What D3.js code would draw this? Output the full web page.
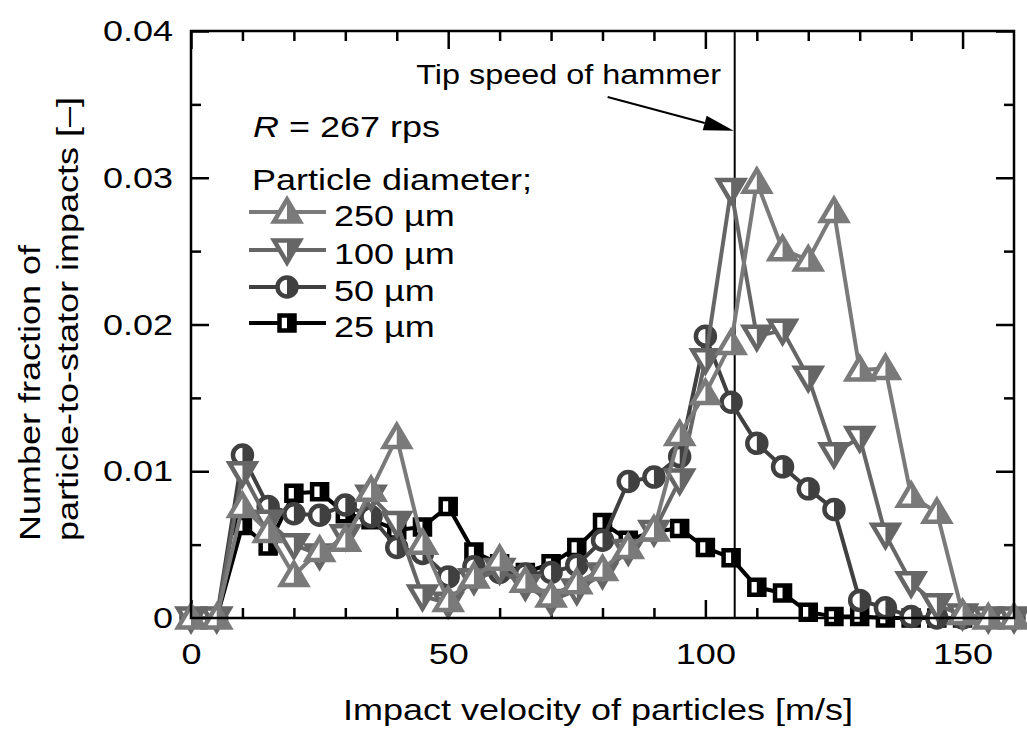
<!DOCTYPE html>
<html>

<head>
    <meta http-equiv="Content-Type" content="text/html; charset=UTF-8" />
    <style>
        body { margin: 0; background: #fff; }
        svg { display: block; font-family: "Liberation Sans", Arial, sans-serif; }
    </style>
</head>

<body>
    <svg></svg>
    <script src="https://cdn.jsdelivr.net/npm/d3@7"></script>

    <script>
        // impact velocity bins [m/s]
        let velocity = [0, 5, 10, 15, 20, 25, 30, 35, 40, 45, 50, 55, 60, 65, 70, 75, 80,
            85, 90, 95, 100, 105, 110, 115, 120, 125, 130, 135, 140, 145, 150, 155, 160];

        // number fraction of particle-to-stator impacts, one array per particle diameter
        let d250 = [0, 0, 0.0076, 0.0059, 0.0029, 0.0046, 0.0053, 0.0087, 0.0123, 0.0051, 0.0012,
            0.0028, 0.0040, 0.0025, 0.0015, 0.0024, 0.0033, 0.0048, 0.0060, 0.0125, 0.0153, 0.0187,
            0.0297, 0.0251, 0.0244, 0.0277, 0.0169, 0.0170, 0.0083, 0.0072, 0.0003, 0, 0];
        let d100 = [0, 0, 0.0099, 0.0066, 0.0050, 0.0043, 0.0056, 0.0083, 0.0065, 0.0015, 0.0010,
            0.0026, 0.0033, 0.0022, 0.0012, 0.0019, 0.0030, 0.0046, 0.0059, 0.0094, 0.0176, 0.0292,
            0.0192, 0.0196, 0.0164, 0.0112, 0.0123, 0.0057, 0.0024, 0.0009, 0.0002, 0, 0];
        let d50 = [0, 0, 0.0111, 0.0076, 0.0071, 0.0070, 0.0077, 0.0069, 0.0048, 0.0044, 0.0028,
            0.0035, 0.0031, 0.0030, 0.0031, 0.0036, 0.0053, 0.0093, 0.0096, 0.0110, 0.0192, 0.0147,
            0.0119, 0.0103, 0.0088, 0.0074, 0.0012, 0.0007, 0.0001, 0, 0, 0, 0];
        let d25 = [0, 0, 0.0063, 0.0049, 0.0085, 0.0086, 0.0071, 0.0067, 0.0060, 0.0062, 0.0076,
            0.0045, 0.0037, 0.0031, 0.0037, 0.0048, 0.0065, 0.0053, 0.0059, 0.0061, 0.0048, 0.0041,
            0.0021, 0.0017, 0.0004, 0.0001, 0.0001, 0, 0, 0, 0, 0, 0];

        let seriesNames = ["250 \u00b5m", "100 \u00b5m", "50 \u00b5m", "25 \u00b5m"];
        let seriesValues = [d250, d100, d50, d25];
        let seriesShapes = ["up", "down", "circle", "square"];
        let seriesColors = ["#7a7a7a", "#666666", "#404040", "#000000"];

        let xMajorTicks = [0, 50, 100, 150];
        let xMinorTicks = [10, 20, 30, 40, 60, 70, 80, 90, 110, 120, 130, 140];
        let yMajorTicks = [0, 0.01, 0.02, 0.03, 0.04];
        let yMinorTicks = [0.005, 0.015, 0.025, 0.035];

        let tipSpeed = 105.7;   // tip speed of hammer [m/s]

        let width = 1027,
            height = 734;
        let plotLeft = 191, plotRight = 1014, plotTop = 31, plotBottom = 618;
        let stretch = 1.2;   // glyphs in the original are wider than Arial

        let svg = d3.select("svg").attr("width", width).attr("height", height);

        let x = d3.scaleLinear().domain([0, 160]).range([plotLeft, plotRight]);
        let y = d3.scaleLinear().domain([0, 0.04]).range([plotBottom, plotTop]);

        function addText(parent, str, px, py, size, anchor, rotate) {
            return parent.append("text")
                .attr("transform", "translate(" + px + "," + py + ") rotate(" + (rotate || 0) + ") scale(" + stretch + ",1)")
                .attr("text-anchor", anchor || "start")
                .style("font-size", size + "px")
                .attr("fill", "#000")
                .text(str);
        }

        // ticks (inward on all four sides)
        function tickAxis(axis, ticks, len, pos) {
            let g = svg.append("g")
                .attr("transform", pos)
                .call(axis.tickValues(ticks).tickSize(-len).tickSizeOuter(0).tickFormat(""));
            g.select(".domain").remove();
            g.selectAll("line").attr("stroke", "#000").attr("stroke-width", 2.5);
            return g;
        }
        tickAxis(d3.axisBottom(x), xMinorTicks, 10, "translate(0," + plotBottom + ")");
        tickAxis(d3.axisTop(x), xMinorTicks, 10, "translate(0," + plotTop + ")");
        tickAxis(d3.axisTop(x), xMajorTicks, 18, "translate(0," + plotTop + ")");
        tickAxis(d3.axisLeft(y), yMinorTicks, 10, "translate(" + plotLeft + ",0)");
        tickAxis(d3.axisRight(y), yMinorTicks, 10, "translate(" + plotRight + ",0)");
        tickAxis(d3.axisRight(y), yMajorTicks, 18, "translate(" + plotRight + ",0)");

        let xAxis = svg.append("g")
            .attr("transform", "translate(0," + plotBottom + ")")
            .call(d3.axisBottom(x).tickValues(xMajorTicks).tickSize(-18).tickSizeOuter(0).tickPadding(25));
        let yAxis = svg.append("g")
            .attr("transform", "translate(" + plotLeft + ",0)")
            .call(d3.axisLeft(y).tickValues(yMajorTicks).tickSize(-18).tickSizeOuter(0)
                .tickFormat((d) => (d === 0 ? "0" : d3.format(".2f")(d))));

        [xAxis, yAxis].forEach((g) => {
            g.select(".domain").remove();
            g.selectAll("line").attr("stroke", "#000").attr("stroke-width", 2.5);
            g.selectAll("text")
                .attr("fill", "#000")
                .style("font-size", "30px")
                .style("font-family", "'Liberation Sans', Arial, sans-serif")
                .attr("transform", "scale(" + stretch + ",1)");
        });
        yAxis.selectAll("text").attr("x", -18 / stretch);

        // tip speed of hammer
        svg.append("line")
            .attr("x1", x(tipSpeed)).attr("x2", x(tipSpeed))
            .attr("y1", plotTop).attr("y2", plotBottom)
            .attr("stroke", "#000").attr("stroke-width", 2);

        // marker shapes: outline + filled right half
        let shapes = {
            up: ["M0,-12.5L13,9.5L-13,9.5Z", "M0,-12.5L13,9.5L0,9.5Z"],
            down: ["M0,12.5L13,-9.5L-13,-9.5Z", "M0,12.5L13,-9.5L0,-9.5Z"],
            circle: ["M0,-9.5A9.5,9.5 0 1 1 0,9.5A9.5,9.5 0 1 1 0,-9.5Z", "M0,-9.5A9.5,9.5 0 0 1 0,9.5Z"],
            square: ["M-7.5,-7.5H7.5V7.5H-7.5Z", "M0,-7.5H7.5V7.5H0Z"]
        };

        function drawMarker(g, shape, color) {
            g.append("path").attr("d", shapes[shape][0])
                .attr("fill", "#fff").attr("stroke", color).attr("stroke-width", 4.5);
            g.append("path").attr("d", shapes[shape][1]).attr("fill", color);
        }

        let line = d3.line()
            .x((d) => x(d[0]))
            .y((d) => y(d[1]));

        // draw 25 um first so 250 um ends on top
        for (let s = seriesValues.length - 1; s >= 0; s--) {
            let pts = velocity.map((v, i) => [v, seriesValues[s][i]]);
            let g = svg.append("g");
            g.append("path")
                .datum(pts)
                .attr("d", line)
                .attr("fill", "none")
                .attr("stroke", seriesColors[s])
                .attr("stroke-width", 4)
                .attr("stroke-linejoin", "round");
            g.selectAll("g.mk")
                .data(pts)
                .enter()
                .append("g")
                .attr("class", "mk")
                .attr("transform", (d) => "translate(" + x(d[0]) + "," + y(d[1]) + ")")
                .each(function () { drawMarker(d3.select(this), seriesShapes[s], seriesColors[s]); });
        }

        // frame
        svg.append("rect")
            .attr("x", plotLeft).attr("y", plotTop)
            .attr("width", plotRight - plotLeft).attr("height", plotBottom - plotTop)
            .attr("fill", "none").attr("stroke", "#000").attr("stroke-width", 2.5);

        // arrow annotation
        let arrowFrom = [x(81), y(0.0355)],
            arrowTo = [x(tipSpeed) - 1, y(0.0332)];
        let ang = Math.atan2(arrowTo[1] - arrowFrom[1], arrowTo[0] - arrowFrom[0]);
        let headLen = 30, headW = 7.5;
        let bx = arrowTo[0] - headLen * Math.cos(ang), by = arrowTo[1] - headLen * Math.sin(ang);
        svg.append("line")
            .attr("x1", arrowFrom[0]).attr("y1", arrowFrom[1])
            .attr("x2", bx).attr("y2", by)
            .attr("stroke", "#000").attr("stroke-width", 2);
        svg.append("path")
            .attr("d", "M" + arrowTo[0] + "," + arrowTo[1] +
                "L" + (bx + headW * Math.sin(ang)) + "," + (by - headW * Math.cos(ang)) +
                "L" + (bx - headW * Math.sin(ang)) + "," + (by + headW * Math.cos(ang)) + "Z")
            .attr("fill", "#000");
        addText(svg, "Tip speed of hammer", 721, 84, 27, "end");

        // rotation speed + legend
        let rText = addText(svg, "", 253, 137, 30, "start");
        rText.append("tspan").style("font-style", "italic").text("R");
        rText.append("tspan").text(" = 267 rps");
        addText(svg, "Particle diameter;", 252, 190, 30, "start");

        let legendRows = [212, 250, 287, 323];
        seriesNames.forEach((name, i) => {
            let ly = legendRows[i];
            svg.append("line")
                .attr("x1", 249).attr("x2", 326)
                .attr("y1", ly).attr("y2", ly)
                .attr("stroke", seriesColors[i]).attr("stroke-width", 4);
            let g = svg.append("g").attr("transform", "translate(287," + ly + ")");
            drawMarker(g, seriesShapes[i], seriesColors[i]);
            addText(svg, name, 334, ly + 14, 30, "start");
        });

        // axis titles
        addText(svg, "Impact velocity of particles [m/s]", 598, 720, 30, "middle");
        addText(svg, "Number fraction of", 40, 541, 30, "start", -90);
        addText(svg, "particle-to-stator impacts [\u2013]", 78, 541, 30, "start", -90);
    </script>
</body>

</html>
